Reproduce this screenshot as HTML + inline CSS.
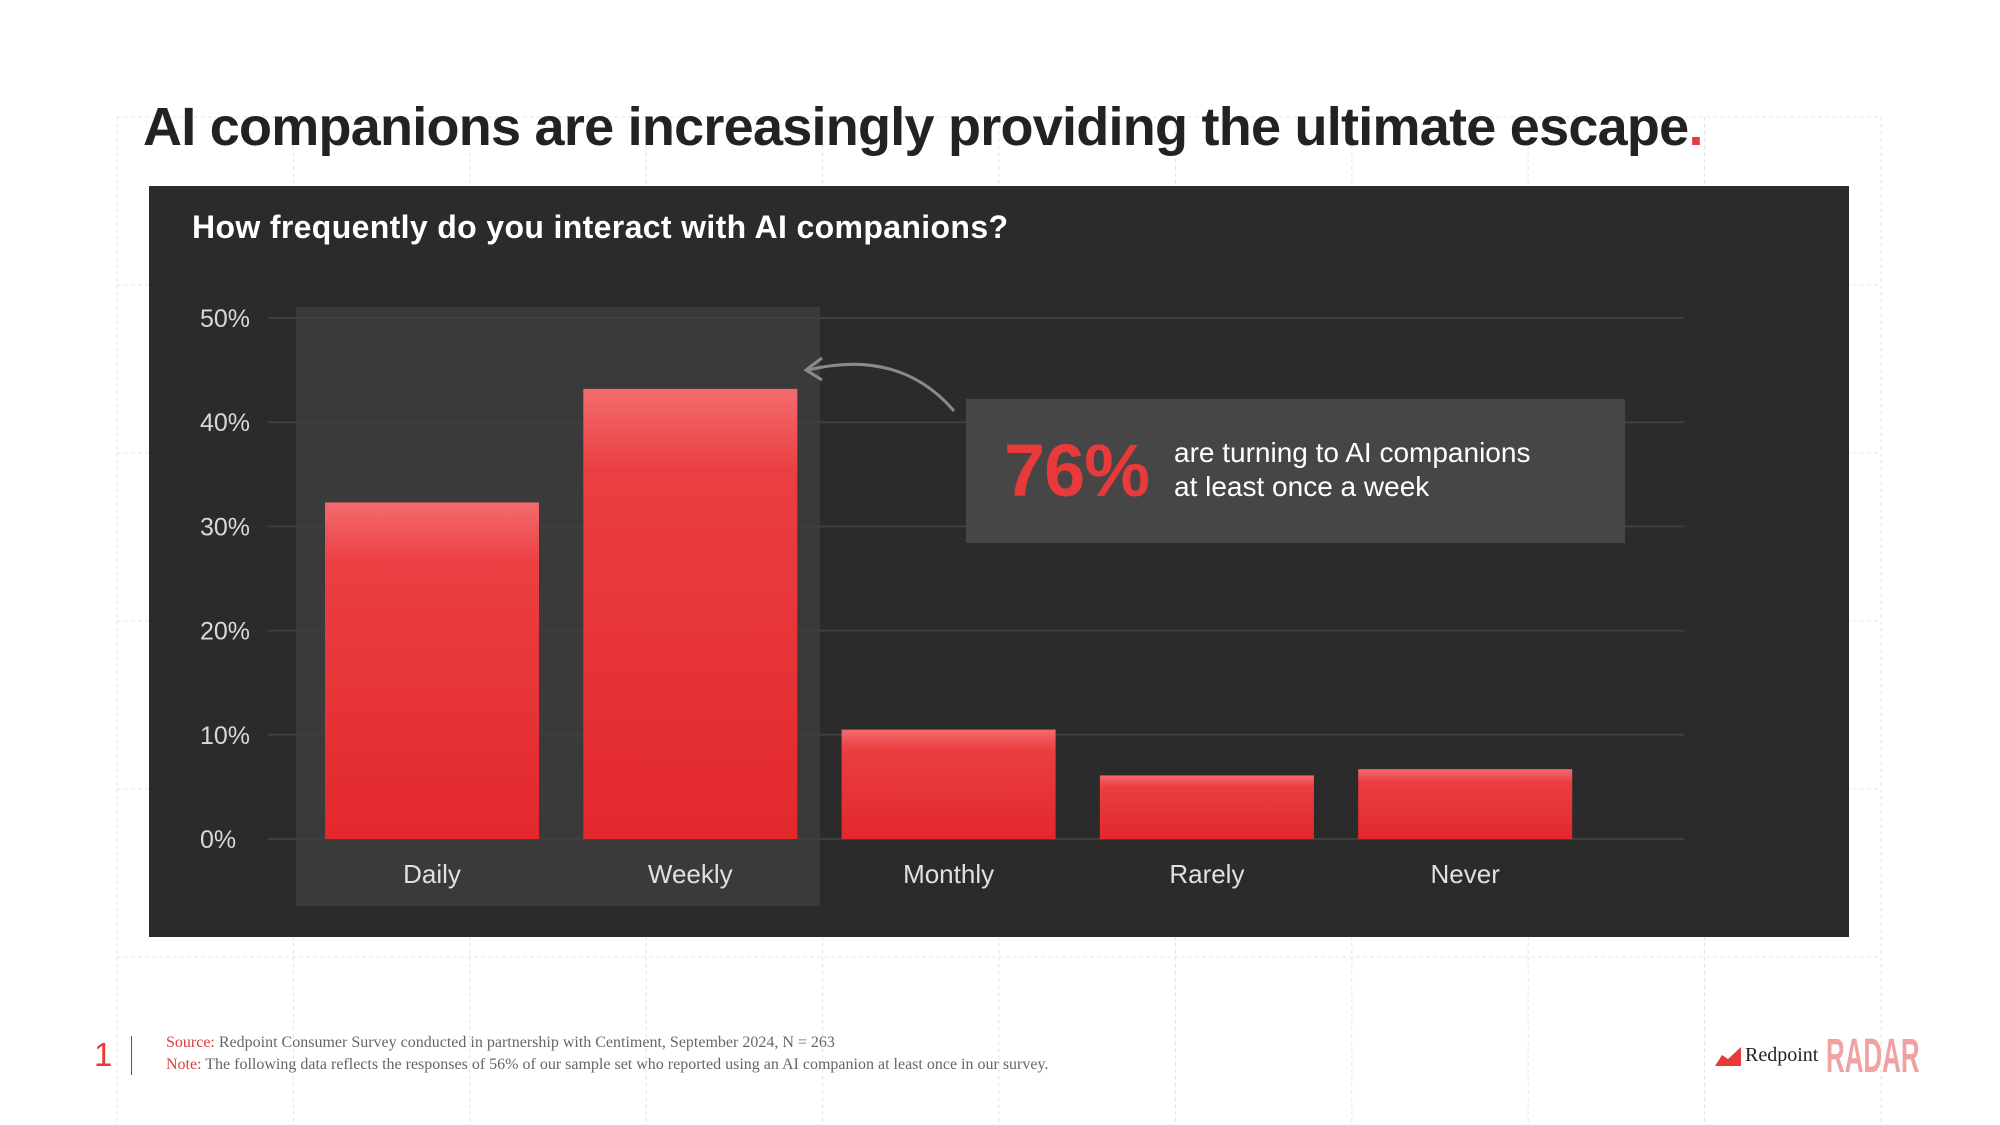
<!DOCTYPE html>
<html><head><meta charset="utf-8">
<style>
html,body{margin:0;padding:0;background:#fff;}
body{width:2000px;height:1125px;position:relative;overflow:hidden;font-family:"Liberation Sans",sans-serif;}
.abs{position:absolute;}
</style></head>
<body>
<svg class="abs" style="left:0;top:0" width="2000" height="1125">
  <g id="bggrid" stroke="#e4e4e4" stroke-width="1" stroke-dasharray="4 3"></g>
</svg>
<div class="abs" style="left:143px;top:96px;font-size:54px;font-weight:bold;color:#222;letter-spacing:-0.75px;white-space:nowrap;">AI companions are increasingly providing the ultimate escape<span style="color:#e8393b">.</span></div>

<div class="abs" style="left:149px;top:186px;width:1700px;height:751px;background:#2b2b2b;"></div>
<div class="abs" style="left:192px;top:209px;font-size:32px;font-weight:bold;color:#fff;letter-spacing:0.35px;white-space:nowrap;">How frequently do you interact with AI companions?</div>

<svg id="chart" class="abs" style="left:0;top:0" width="2000" height="1125">
  <defs>
    <linearGradient id="barg" x1="0" y1="0" x2="0" y2="1">
      <stop offset="0" stop-color="#f36b6e"/>
      <stop offset="0.18" stop-color="#ea3f42"/>
      <stop offset="1" stop-color="#e3282c"/>
    </linearGradient>
  </defs>
  <rect x="296" y="307" width="524" height="599" fill="#3a3a3a"/>
  <g id="grid"></g>
  <g id="bars"></g>
  <g id="ylabels"></g>
  <g id="xlabels"></g>
  <rect x="966" y="399" width="659" height="144" fill="#464646"/>
  <path d="M954,411 Q900,348 808,370" fill="none" stroke="#8a8a8a" stroke-width="3"/>
  <path d="M822,358 L806,370 L822,380" fill="none" stroke="#8a8a8a" stroke-width="3"/>
  <text x="1004" y="496" font-family="Liberation Sans" font-weight="bold" font-size="74" fill="#e8393b" letter-spacing="-1">76%</text>
  <text x="1174" y="462" font-family="Liberation Sans" font-size="28" fill="#fff">are turning to AI companions</text>
  <text x="1174" y="496" font-family="Liberation Sans" font-size="28" fill="#fff">at least once a week</text>
</svg>

<div class="abs" style="left:94px;top:1036px;font-size:33px;color:#e8393b;">1</div>
<div class="abs" style="left:131px;top:1036px;width:1px;height:39px;background:#555;"></div>
<div class="abs" style="left:166px;top:1032px;font-family:'Liberation Serif',serif;font-size:16px;color:#666;line-height:22px;white-space:nowrap;">
  <div><span style="color:#e8393b">Source:</span> Redpoint Consumer Survey conducted in partnership with Centiment, September 2024, N = 263</div>
  <div><span style="color:#e8393b">Note:</span> The following data reflects the responses of 56% of our sample set who reported using an AI companion at least once in our survey.</div>
</div>
<svg class="abs" style="left:1714px;top:1045px" width="30" height="22"><path d="M1,21 L8,10 L14,14 L27,2 L27,21 Z" fill="#e8393b"/></svg>
<div class="abs" style="left:1745px;top:1044px;font-family:'Liberation Serif',serif;font-size:20px;color:#222;">Redpoint</div>
<div class="abs" style="left:1826px;top:1029px;font-size:48px;font-weight:bold;color:#f0a2a2;transform:scaleX(0.54);transform-origin:left top;">RADAR</div>

<script>
const categories = ["Daily","Weekly","Monthly","Rarely","Never"];
const values = [32.3, 43.2, 10.5, 6.1, 6.7];
const yTicks = [0,10,20,30,40,50];
const yTickLabels = ["0%","10%","20%","30%","40%","50%"];

const NS="http://www.w3.org/2000/svg";
const y0=839, yTop=318, yMax=50;
function yScale(v){return y0-(v/yMax)*(y0-yTop);}
const bandStart=325, bandStep=258.3, barW=214;
function xScale(i){return bandStart+i*bandStep;}
function mk(tag,attrs,parent){const e=document.createElementNS(NS,tag);for(const k in attrs)e.setAttribute(k,attrs[k]);parent.appendChild(e);return e;}

const bg=document.getElementById('bggrid');
for(let i=0;i<11;i++){const x=117+i*176.4;const l=mk('line',{x1:x,y1:117,x2:x,y2:1125},bg);

}
for(let j=0;j<6;j++){const y=117+j*168;const l=mk('line',{x1:117,y1:y,x2:1881,y2:y},bg);

}

const g=document.getElementById('grid'), yl=document.getElementById('ylabels');
yTicks.forEach((t,i)=>{
  const y=yScale(t);
  const l=mk('line',{x1:268,y1:y,x2:1684,y2:y,stroke:'#3f3f3f','stroke-width':2},g);
  
  
  const tx=mk('text',{x:200,y:y+9,'font-family':'Liberation Sans','font-size':25,fill:'#d8d8d8'},yl);
  tx.textContent=yTickLabels[i];
  
  
});
const bars=document.getElementById('bars'), xl=document.getElementById('xlabels');
categories.forEach((c,i)=>{
  const x=xScale(i), y=yScale(values[i]);
  const r=mk('rect',{x:x,y:y,width:barW,height:y0-y,fill:'url(#barg)'},bars);
  
  
  const t=mk('text',{x:x+barW/2,y:883,'text-anchor':'middle','font-family':'Liberation Sans','font-size':26,fill:'#e0e0e0'},xl);
  t.textContent=c;
  
  
});
</script>
</body></html>
